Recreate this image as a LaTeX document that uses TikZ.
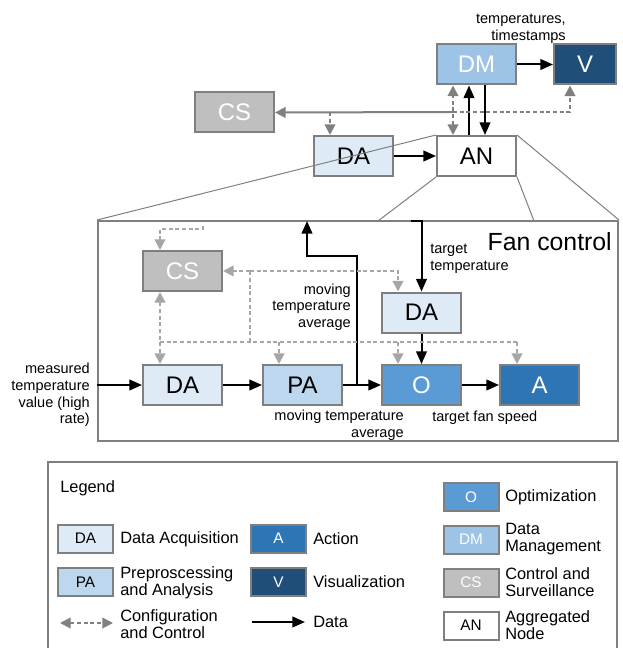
\documentclass[tikz,border=0pt]{standalone}
\usepackage{fontspec}
\setmainfont{Liberation Sans}
\usetikzlibrary{arrows.meta,calc}

\definecolor{daFill}{HTML}{DEEBF7}
\definecolor{paFill}{HTML}{BDD7EE}
\definecolor{oFill}{HTML}{5B9BD5}
\definecolor{aFill}{HTML}{2E75B6}
\definecolor{vFill}{HTML}{1F4E79}
\definecolor{dmFill}{HTML}{9DC3E6}
\definecolor{csFill}{HTML}{BFBFBF}
\definecolor{boxLine}{HTML}{7F7F7F}
\definecolor{ctlDark}{HTML}{808080}
\definecolor{ctlLight}{HTML}{A6A6A6}

\tikzset{
  unit/.style={draw=boxLine, line width=1.5pt, inner sep=0pt,
    minimum width=59.25pt, minimum height=30pt, font=\fontsize{18}{18}\selectfont},
  keybox/.style={draw=boxLine, line width=1.5pt, inner sep=0pt,
    minimum width=41.25pt, minimum height=21pt, font=\fontsize{11.5}{11.5}\selectfont},
  fDA/.style={fill=daFill, text=black},
  fPA/.style={fill=paFill, text=black},
  fO/.style={fill=oFill, text=white},
  fA/.style={fill=aFill, text=white},
  fV/.style={fill=vFill, text=white},
  fDM/.style={fill=dmFill, text=white},
  fCS/.style={fill=csFill, text=white},
  fAN/.style={fill=white, text=black},
  data/.style={draw=black, line width=1.5pt, -{Triangle[length=9.5pt,width=8pt]}},
  ctl/.style={draw=ctlDark, line width=1.5pt, dash pattern=on 3pt off 2pt},
  ctlin/.style={draw=ctlLight, line width=1.5pt, dash pattern=on 3pt off 2pt},
  tipD/.style={-{Triangle[length=8pt,width=8pt]}},
  tipDD/.style={{Triangle[length=8pt,width=8pt]}-{Triangle[length=8pt,width=8pt]}},
  zoomline/.style={draw=boxLine, line width=0.75pt},
  lbl/.style={inner sep=0pt, font=\fontsize{10.9}{12.4}\selectfont},
  keytxt/.style={inner sep=0pt, anchor=west, align=left, font=\fontsize{12.3}{12.8}\selectfont},
}

\begin{document}
\begin{tikzpicture}[x=0.75pt,y=-0.75pt]
\useasboundingbox (0,0) rectangle (623,648);

% ---------- aggregated level ----------
\node[unit,fDM,minimum width=59.25pt] (DM) at (476.5,64.5) {DM};
\node[unit,fV,minimum width=46.5pt] (V) at (585,64.5) {V};
\node[unit,fCS] (CSt) at (234.5,112.5) {CS};
\node[unit,fDA] (DAt) at (353.5,156) {DA};
\node[unit,fAN] (AN) at (476.5,156) {AN};

\node[lbl,align=right,anchor=east] (tslbl) at (566,29) {temperatures,\\timestamps};

\draw[data] (DAt) -- (AN);
\draw[data] (DM) -- (V);
\draw[data] ($(AN.north)+(-7.5,0)$) -- ($(DM.south)+(-7.5,0)$);
\draw[data] ($(DM.south)+(8.5,0)$) -- ($(AN.north)+(8.5,0)$);

% configuration / control links at aggregated level
\coordinate (cj) at (453,112);
\draw[ctl,tipDD] ($(AN.north)+(-23.5,0)$) -- ($(DM.south)+(-23.5,0)$);
\draw[ctl,tipD] (cj) -| ($(V.south)+(-15,0)$);
\draw[draw=ctlDark,line width=1.5pt,tipD] (cj) -- (CSt.east);
\draw[ctl,tipD] (330,112) -- ($(DAt.north)+(-23.5,0)$);

% ---------- fan control detail ----------
\node[draw=boxLine, line width=1.5pt, minimum width=390pt, minimum height=165pt, inner sep=0pt]
  (FB) at (358,331) {};
\node[inner sep=0pt, anchor=north east, font=\fontsize{18.6}{18.6}\selectfont] (fctitle) at (612,232) {Fan control};

% zoom-out lines from the aggregated node
\draw[zoomline] (AN.north west) -- (FB.north west);
\draw[zoomline] (AN.south west) -- (378,221);
\draw[zoomline] (AN.south east) -- (534,221);
\draw[zoomline] (AN.north east) -- (FB.north east);

\node[unit,fCS] (CSf) at (182.5,271) {CS};
\node[unit,fDA] (DAl) at (182.5,385) {DA};
\node[unit,fPA] (PA) at (302.5,385) {PA};
\node[unit,fO] (O) at (421.5,385) {O};
\node[unit,fA] (A) at (539.5,385) {A};
\node[unit,fDA] (DAr) at (421.5,312.5) {DA};

% data flow
\draw[data] (FB.west |- DAl) -- (DAl);
\draw[data] (DAl) -- (PA);
\draw[data] (PA) -- (O);
\draw[data] (O) -- (A);
\draw[data] (DAr) -- (O);
\coordinate (mvb) at (357,385);
\coordinate (mvt) at (307,221);
\draw[data] (mvb) -- ++(0,-129) -| (mvt);
\coordinate (ttin) at (411,221);
\draw[data] (ttin) -| (DAr.north);

% labels
\node[lbl,align=right,anchor=east] (inlbl) at (90,395) {measured\\temperature\\value (high\\rate)};
\node[lbl,align=right,anchor=east] (mvlbl) at (351,307) {moving\\temperature\\average};
\node[lbl,align=left,anchor=west] (ttlbl) at (430,259) {target\\temperature};
\node[lbl,align=right,anchor=east] (mv2lbl) at (404,425) {moving temperature\\average};
\node[lbl,anchor=west] (fslbl) at (432,418) {target fan speed};

% configuration / control links inside fan control
\coordinate (bl) at (160,342);
\coordinate (br) at (517,342);
\draw[ctlin] (bl) -- (br);
\draw[ctlin,tipDD] ($(CSf.south)+(-22.5,0)$) -- ($(DAl.north)+(-22.5,0)$);
\draw[ctlin,tipD] (279,342) -- ($(PA.north)+(-23.5,0)$);
\draw[ctlin,tipD] (398,342) -- ($(O.north)+(-23.5,0)$);
\draw[ctlin,tipD] (br) -- ($(A.north)+(-22.5,0)$);
\draw[ctlin] (250,342) -- (250,271);
\draw[ctlin,tipD] (250,271) -- (CSf.east);
\draw[ctlin,tipD] (250,271) -| ($(DAr.north)+(-23.5,0)$);
\draw[ctlin,tipD] (203,226) -- (203,229) -| ($(CSf.north)+(-22.5,0)$);

% ---------- legend ----------
\draw[draw=boxLine, line width=1.5pt] (48,662) -- (48,462) -- (617,462) -- (617,662);
\node[inner sep=0pt, anchor=west, font=\fontsize{12.3}{12.3}\selectfont] (legtitle) at (60,488) {Legend};

\node[keybox,fDA] (kDA) at (85.5,538.5) {DA};
\node[keytxt] (tDA) at (120,539) {Data Acquisition};
\node[keybox,fPA] (kPA) at (85.5,582) {PA};
\node[keytxt] (tPA) at (120,583) {Preproscessing\\and Analysis};
\coordinate (kc1) at (60,623);
\coordinate (kc2) at (113,623);
\draw[ctl,tipDD] (kc1) -- (kc2);
\node[keytxt] (tCC) at (120,624) {Configuration\\and Control};

\node[keybox,fA] (kA) at (278.5,538.5) {A};
\node[keytxt] (tA) at (313,539) {Action};
\node[keybox,fV] (kV) at (278.5,582) {V};
\node[keytxt] (tV) at (313,582) {Visualization};
\coordinate (kd1) at (252,622);
\coordinate (kd2) at (305,622);
\draw[data] (kd1) -- (kd2);
\node[keytxt] (tD) at (313,622) {Data};

\node[keybox,fO] (kO) at (471,497) {O};
\node[keytxt] (tO) at (505,497) {Optimization};
\node[keybox,fDM] (kDM) at (471,539.5) {DM};
\node[keytxt] (tDM) at (505,539) {Data\\Management};
\node[keybox,fCS] (kCS) at (471,582.5) {CS};
\node[keytxt] (tCS) at (505,582) {Control and\\Surveillance};
\node[keybox,fAN] (kAN) at (471,625.5) {AN};
\node[keytxt] (tAN) at (505,625) {Aggregated\\Node};
\end{tikzpicture}
\end{document}
